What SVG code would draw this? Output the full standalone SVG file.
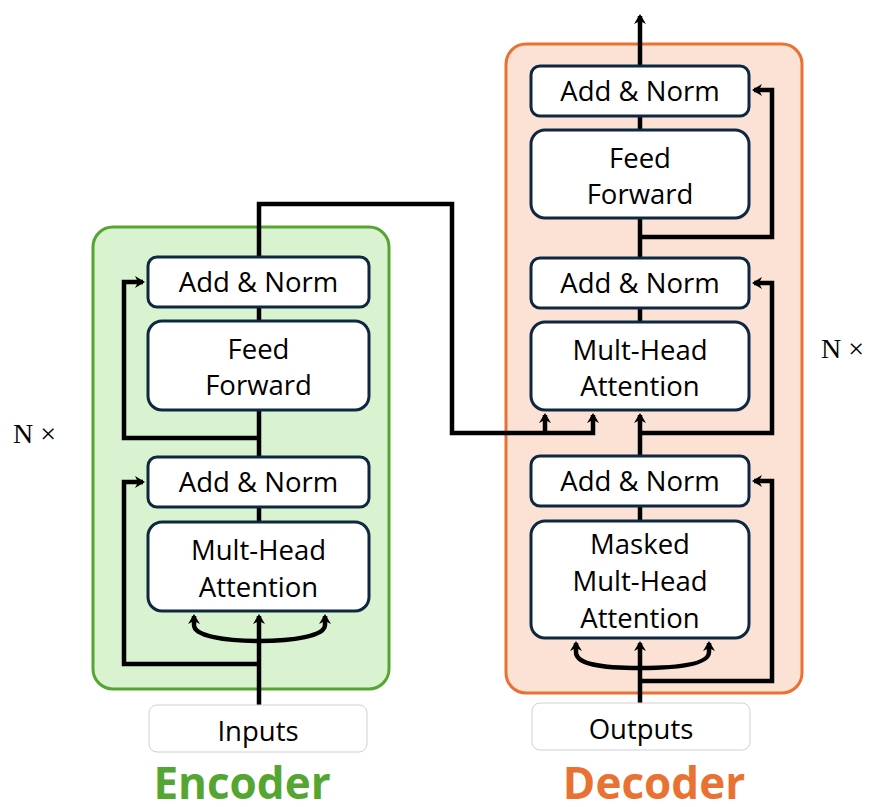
<svg xmlns="http://www.w3.org/2000/svg" width="869" height="807" viewBox="0 0 869 807">
<defs>
<style>
.box{fill:#ffffff;stroke:#0e2841;stroke-width:3}
.io{fill:#ffffff;stroke:#d0d0d0;stroke-width:1}
.lbl{font-family:"Open Sans","Noto Sans",sans-serif;font-size:27.5px;fill:#000;text-anchor:middle}
.ln{fill:none;stroke:#000;stroke-width:4.5;stroke-linejoin:miter}
.nx{font-family:"Liberation Serif","DejaVu Serif",serif;font-size:28px;fill:#000}
.title{font-family:"Open Sans","Noto Sans",sans-serif;font-size:44px;font-weight:bold;text-anchor:middle}
</style>
<marker id="ah" markerUnits="userSpaceOnUse" markerWidth="16" markerHeight="16" viewBox="-8 -8 16 16" refX="0" refY="0" orient="auto">
<path d="M-8,-6 L2,0 L-8,6 L-5,0 Z" fill="#000"/>
</marker>
</defs>

<g id="encoder-container"><rect x="93" y="227" width="296" height="462" rx="20" fill="#d9f2d0" stroke="#55a532" stroke-width="3"/></g>
<g id="decoder-container"><rect x="506" y="44" width="296" height="649" rx="20" fill="#fbe2d5" stroke="#e97132" stroke-width="3"/></g>

<g id="connectors">
<!-- encoder -->
<path class="ln" d="M259,705 V616" marker-end="url(#ah)"/>
<path class="ln" d="M259,641 C225,641 194,636 194,625 V616" marker-end="url(#ah)"/>
<path class="ln" d="M259,641 C293,641 325,636 325,625 V616" marker-end="url(#ah)"/>
<path class="ln" d="M259,664 H124 V482 H143" marker-end="url(#ah)"/>
<path class="ln" d="M259,522 V507"/>
<path class="ln" d="M259,457 V410"/>
<path class="ln" d="M259,438 H124 V282 H143" marker-end="url(#ah)"/>
<path class="ln" d="M259,321 V307"/>
<path class="ln" d="M259,257 V204 H452 V433 H593 V415" marker-end="url(#ah)"/>
<path class="ln" d="M545,433 V415" marker-end="url(#ah)"/>
<!-- decoder -->
<path class="ln" d="M640,703 V643" marker-end="url(#ah)"/>
<path class="ln" d="M640,668 C600,668 576,664 576,652 V643" marker-end="url(#ah)"/>
<path class="ln" d="M640,668 C680,668 709,664 709,652 V643" marker-end="url(#ah)"/>
<path class="ln" d="M640,681 H772 V481 H754" marker-end="url(#ah)"/>
<path class="ln" d="M640,521 V506"/>
<path class="ln" d="M640,456 V415" marker-end="url(#ah)"/>
<path class="ln" d="M640,433 H772 V283 H754" marker-end="url(#ah)"/>
<path class="ln" d="M640,322 V308"/>
<path class="ln" d="M640,258 V218"/>
<path class="ln" d="M640,237 H772 V90 H754" marker-end="url(#ah)"/>
<path class="ln" d="M640,130 V116"/>
<path class="ln" d="M640,66 V16" marker-end="url(#ah)"/>
</g>

<g id="enc-addnorm2"><rect class="box" x="148" y="257" width="221" height="50" rx="9"/><text class="lbl" x="258.5" y="292">Add &amp; Norm</text></g>
<g id="enc-ff"><rect class="box" x="148" y="321" width="221" height="89" rx="14"/><text class="lbl" x="258.5" y="359">Feed</text><text class="lbl" x="258.5" y="395">Forward</text></g>
<g id="enc-addnorm1"><rect class="box" x="148" y="457" width="221" height="50" rx="9"/><text class="lbl" x="258.5" y="492">Add &amp; Norm</text></g>
<g id="enc-mha"><rect class="box" x="148" y="522" width="221" height="89" rx="14"/><text class="lbl" x="258.5" y="560">Mult-Head</text><text class="lbl" x="258.5" y="597">Attention</text></g>
<g id="inputs"><rect class="io" x="149" y="705" width="218" height="47" rx="8"/><text class="lbl" x="258" y="741">Inputs</text></g>

<g id="dec-addnorm3"><rect class="box" x="531" y="66" width="218" height="50" rx="9"/><text class="lbl" x="640" y="101">Add &amp; Norm</text></g>
<g id="dec-ff"><rect class="box" x="531" y="130" width="218" height="88" rx="14"/><text class="lbl" x="640" y="168">Feed</text><text class="lbl" x="640" y="204">Forward</text></g>
<g id="dec-addnorm2"><rect class="box" x="531" y="258" width="218" height="50" rx="9"/><text class="lbl" x="640" y="293">Add &amp; Norm</text></g>
<g id="dec-mha"><rect class="box" x="531" y="322" width="218" height="88" rx="14"/><text class="lbl" x="640" y="360">Mult-Head</text><text class="lbl" x="640" y="396">Attention</text></g>
<g id="dec-addnorm1"><rect class="box" x="531" y="456" width="218" height="50" rx="9"/><text class="lbl" x="640" y="491">Add &amp; Norm</text></g>
<g id="dec-masked"><rect class="box" x="531" y="521" width="218" height="117" rx="14"/><text class="lbl" x="640" y="554">Masked</text><text class="lbl" x="640" y="591">Mult-Head</text><text class="lbl" x="640" y="628">Attention</text></g>
<g id="outputs"><rect class="io" x="532" y="703" width="218" height="47" rx="8"/><text class="lbl" x="641" y="739">Outputs</text></g>

<text class="nx" x="13" y="443">N ×</text>
<text class="nx" x="821" y="358">N ×</text>
<text class="title" x="242" y="799" fill="#55a532">Encoder</text>
<text class="title" x="654" y="799" fill="#e97132">Decoder</text>
</svg>
